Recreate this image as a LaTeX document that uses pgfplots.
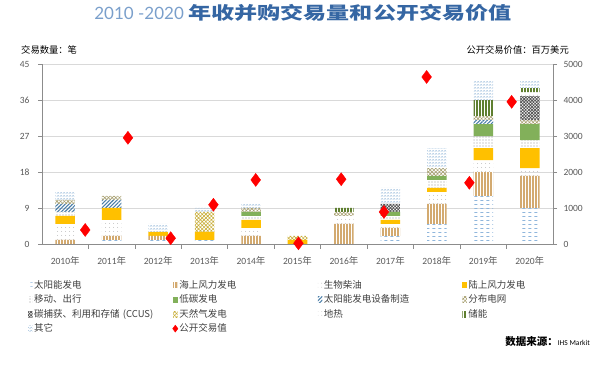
\documentclass[border=0pt]{standalone}
\usepackage{pgfplots}
\pgfplotsset{compat=1.18}
\usepackage{pgfplotstable}
\usepackage{fontspec}
\usepackage{graphicx}
\usetikzlibrary{patterns.meta}
\setmainfont{Carlito}
\newfontfamily\cjk{Noto Sans CJK SC}
\newfontfamily\latfont{Lato}

\definecolor{axisgray}{HTML}{8C8C8C}
\definecolor{gridgray}{HTML}{D9D9D9}
\definecolor{tickgray}{HTML}{595959}
\definecolor{legtext}{HTML}{404040}
\definecolor{titlelight}{HTML}{7A9FCB}
\definecolor{titledark}{HTML}{3566A3}
\definecolor{csolar}{HTML}{8FB6DC}
\definecolor{coffshore}{HTML}{D3AA70}
\definecolor{cbio}{HTML}{A6A6A6}
\definecolor{consh}{HTML}{FFC000}
\definecolor{cmob}{HTML}{999999}
\definecolor{clow}{HTML}{82B05A}
\definecolor{cmfg}{HTML}{4A7EA8}
\definecolor{cgrid}{HTML}{A8A070}
\definecolor{cccus}{HTML}{555555}
\definecolor{cgas}{HTML}{C8AE3A}
\definecolor{cgeo}{HTML}{B5B5B5}
\definecolor{cstor}{HTML}{5F7F30}
\definecolor{cother}{HTML}{A3C2DE}

\tikzdeclarepattern{
  name=hdash, type=uncolored,
  bounding box={(0bp,0bp) and (6bp,3.5bp)},
  tile size={(6bp,3.5bp)},
  code={\draw[line width=0.75bp] (0.5bp,1.75bp) -- (4bp,1.75bp);}
}
\tikzdeclarepattern{
  name=sdots, type=uncolored,
  bounding box={(0bp,0bp) and (4bp,4bp)},
  tile size={(4bp,4bp)},
  code={\fill (2bp,2bp) circle (0.55bp);}
}
\tikzdeclarepattern{
  name=zigzag, type=uncolored,
  bounding box={(0bp,0bp) and (3bp,3bp)},
  tile size={(3bp,3bp)},
  code={\draw[line width=0.55bp] (0bp,0.6bp) -- (1.5bp,2.2bp) -- (3bp,0.6bp);}
}

\pgfplotstableread{
x s1 s2 s3 s4 s5 s6 s7 s8 s9 s10 s11 s12 s13
0 0 1 4 2 1 0 2 1 0 0 0 0 2
1 1 1 4 3 0 0 2 1 0 0 0 0 0
2 1 1 0 1 0 0 0 0 0 0 0 0 2
3 1 0 0 2 0 0 0 0 0 5 0 0 1
4 0 2 2 2 1 1 0 1 0 0 0 0 1
5 0 0 0 1 0 0 0 0 0 1 0 0 0
6 0 5 2 0 0 0 0 1 0 0 0 1 0
7 2 2 1 1 1 1 0 0 2 0 0 0 4
8 5 5 3 1 2 1 0 2 0 0 0 0 5
9 12 6 3 3 3 3 1 1 0 0 0 4 5
10 9 8 2 5 2 4 0 1 6 0 1 1 2
}\bars

\pgfplotstableread{
x v
0.43 390
1.35 2950
2.27 160
3.19 1090
4.10 1780
5.02 20
5.94 1800
6.86 890
7.78 4640
8.70 1700
9.61 3950
}\deals

\pgfplotsset{
  seg/.style={draw=none, legend image code/.code={\draw[##1,draw=none] (0bp,-3bp) rectangle (4.5bp,3bp);}},
  diamleg/.style={legend image code/.code={\draw[##1] plot coordinates {(2.25bp,0bp)};}},
}

\begin{document}
\begin{tikzpicture}
\useasboundingbox (0,0) rectangle (595bp,365bp);
\begin{axis}[
  at={(42bp,121bp)}, anchor=south west,
  scale only axis, width=511bp, height=180bp,
  ybar stacked, bar width=0.42,
  xmin=-0.5, xmax=10.5, ymin=0, ymax=45,
  ytick={0,9,18,27,36,45},
  xtick={0,...,10},
  xticklabels={2010{\cjk 年},2011{\cjk 年},2012{\cjk 年},2013{\cjk 年},2014{\cjk 年},2015{\cjk 年},2016{\cjk 年},2017{\cjk 年},2018{\cjk 年},2019{\cjk 年},2020{\cjk 年}},
  minor xtick={0.5,1.5,...,9.5},
  axis x line*=bottom, axis y line*=left,
  axis line style={-, draw=axisgray, line width=0.8bp},
  tick align=outside,
  major tick length=4bp, minor tick length=5bp,
  major x tick style={draw=none},
  minor x tick style={draw=axisgray, line width=0.8bp},
  major y tick style={draw=axisgray, line width=0.8bp},
  ymajorgrids, grid style={draw=gridgray, line width=0.6bp},
  /pgf/number format/assume math mode=true,
  ticklabel style={font=\fontsize{9.5bp}{11bp}\selectfont, text=tickgray},
  xticklabel style={yshift=-5bp},
  yticklabel style={xshift=-5bp},
  legend columns=4,
  legend cell align=left,
  legend style={draw=none, fill=none, at={(-0.0274,-0.187)}, anchor=north west,
    inner xsep=0bp, inner ysep=0bp, row sep=0bp,
    font=\cjk\fontsize{9.5bp}{11bp}\selectfont, text=legtext,
    nodes={text width=137bp, inner xsep=1.5bp, inner ysep=2bp, text height=8.2bp, text depth=2.3bp, align=left}},
]
\addplot[seg, pattern=hdash, pattern color=csolar] table[x=x,y=s1]{\bars};
\addlegendentry{太阳能发电}
\addplot[seg, fill=coffshore, postaction={pattern={Lines[angle=90,distance=3bp,line width=0.9bp]}, pattern color=white}] table[x=x,y=s2]{\bars};
\addlegendentry{海上风力发电}
\addplot[seg, pattern=sdots, pattern color=cbio] table[x=x,y=s3]{\bars};
\addlegendentry{生物柴油}
\addplot[seg, fill=consh] table[x=x,y=s4]{\bars};
\addlegendentry{陆上风力发电}
\addplot[seg, pattern={Dots[radius=0.55bp,distance=3bp]}, pattern color=cmob] table[x=x,y=s5]{\bars};
\addlegendentry{移动、出行}
\addplot[seg, fill=clow] table[x=x,y=s6]{\bars};
\addlegendentry{低碳发电}
\addplot[seg, pattern={Lines[angle=45,distance=2.6bp,line width=1.1bp]}, pattern color=cmfg] table[x=x,y=s7]{\bars};
\addlegendentry{太阳能发电设备制造}
\addplot[seg, pattern={Hatch[angle=45,distance=2.6bp,line width=0.6bp]}, pattern color=cgrid] table[x=x,y=s8]{\bars};
\addlegendentry{分布电网}
\addplot[seg, pattern={Hatch[angle=45,distance=2.2bp,line width=0.75bp]}, pattern color=cccus] table[x=x,y=s9]{\bars};
\addlegendentry{碳捕获、利用和存储 (CCUS)}
\addplot[seg, pattern={Hatch[angle=45,distance=2.6bp,line width=0.6bp]}, pattern color=cgas] table[x=x,y=s10]{\bars};
\addlegendentry{天然气发电}
\addplot[seg, pattern=sdots, pattern color=cgeo] table[x=x,y=s11]{\bars};
\addlegendentry{地热}
\addplot[seg, pattern={Lines[angle=90,distance=3bp,line width=1.4bp]}, pattern color=cstor] table[x=x,y=s12]{\bars};
\addlegendentry{储能}
\addplot[seg, pattern=zigzag, pattern color=cother] table[x=x,y=s13]{\bars};
\addlegendentry{其它}
\addlegendimage{only marks, mark=diamond*, mark size=3.5bp, color=red, diamleg}
\addlegendentry{公开交易值}
\end{axis}
\begin{axis}[
  at={(42bp,121bp)}, anchor=south west,
  scale only axis, width=511bp, height=180bp,
  xmin=-0.5, xmax=10.5, ymin=0, ymax=5000,
  axis x line=none, axis y line*=right,
  axis line style={-, draw=axisgray, line width=0.8bp},
  tick align=outside, major tick length=4bp,
  ytick={0,1000,2000,3000,4000,5000},
  yticklabels={0,1000,2000,3000,4000,5000},
  y tick style={draw=axisgray, line width=0.8bp},
  ticklabel style={font=\fontsize{9.5bp}{11bp}\selectfont, text=tickgray},
  yticklabel style={xshift=3bp},
]
\addplot[only marks, mark=diamond*, mark size=6.5bp, color=red] table[x=x,y=v]{\deals};
\end{axis}

\node at (303bp,352bp) {{\latfont\fontsize{17bp}{20bp}\selectfont\color{titlelight}2010 -2020 }{\cjk\bfseries\color{titledark}\scalebox{1.32}[1]{\fontsize{17.5bp}{20bp}\selectfont 年收并购交易量和公开交易价值}}};
\node[anchor=west, inner sep=0pt] at (21bp,315bp) {\cjk\fontsize{9.3bp}{11bp}\selectfont 交易数量：笔};
\node[anchor=east, inner sep=0pt] at (569bp,315bp) {\cjk\fontsize{9.3bp}{11bp}\selectfont 公开交易价值：百万美元};
\node[anchor=east, inner sep=0pt] at (590bp,23bp) {{\cjk\bfseries\fontsize{10.5bp}{12bp}\selectfont 数据来源：}{\fontsize{7.5bp}{9bp}\selectfont IHS Markit}};
\end{tikzpicture}
\end{document}
